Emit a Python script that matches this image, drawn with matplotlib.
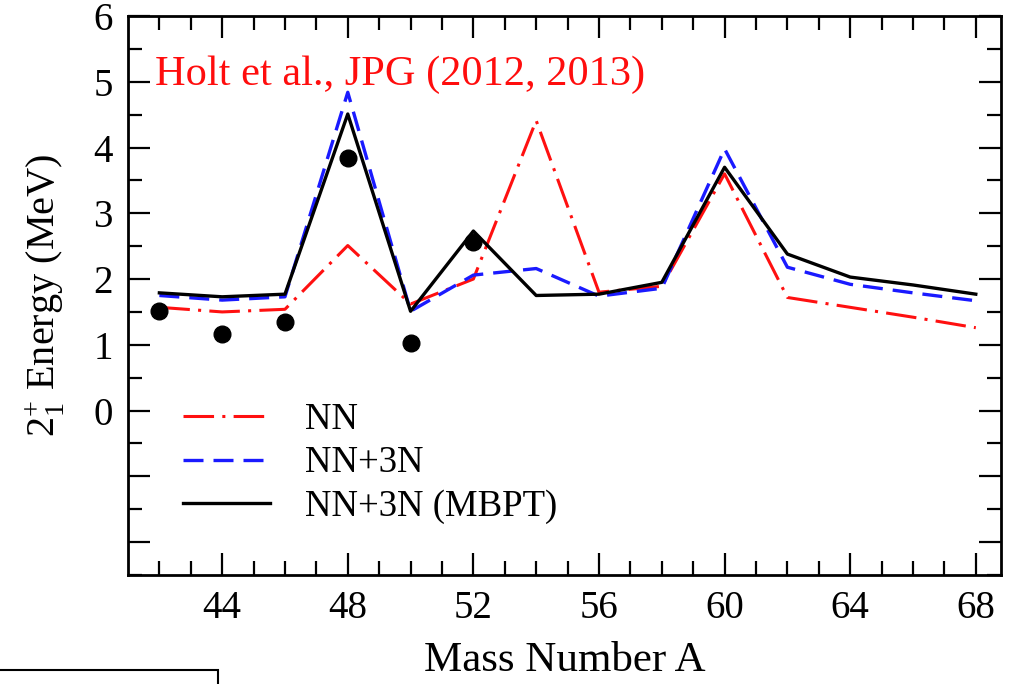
#2+_1 energies of calcium-like isotopes: NN, NN+3N and MBPT vs experiment

import matplotlib
matplotlib.use('Agg')
import matplotlib.pyplot as plt
from matplotlib.patches import Rectangle

plt.rcParams['font.family'] = 'Liberation Serif'
plt.rcParams['mathtext.fontset'] = 'custom'
plt.rcParams['mathtext.rm'] = 'Liberation Serif'

#data
mass = [42, 44, 46, 48, 50, 52, 54, 56, 58, 60, 62, 64, 66, 68]
nn = [1.57, 1.50, 1.54, 2.51, 1.62, 2.00, 4.41, 1.80, 1.89, 3.60, 1.72, 1.57, 1.42, 1.26]
nn3n = [1.75, 1.68, 1.73, 4.84, 1.51, 2.06, 2.16, 1.74, 1.86, 3.98, 2.18, 1.92, 1.79, 1.67]
mbpt = [1.79, 1.73, 1.77, 4.51, 1.51, 2.73, 1.75, 1.77, 1.95, 3.70, 2.38, 2.03, 1.91, 1.77]
exp_mass = [42, 44, 46, 48, 50, 52]
exp_e = [1.51, 1.16, 1.35, 3.84, 1.03, 2.57]

fig = plt.figure(figsize=(10.1, 6.84), dpi=100)
ax = fig.add_axes([0.1267, 0.1594, 0.8643, 0.8172])

ax.plot(mass, nn, color='#ff1010', lw=2.2, ls=(0, (10, 2.7, 1, 2.7)), label='NN')
ax.plot(mass, nn3n, color='#1a1aff', lw=2.4, ls=(0, (6, 3)), label='NN+3N')
ax.plot(mass, mbpt, color='black', lw=2.4, label='NN+3N (MBPT)')
ax.plot(exp_mass, exp_e, 'o', color='black', ms=12, zorder=5)

ax.set_xlim(41, 68.8)
ax.set_ylim(-2.5, 6)
ax.set_xticks([44, 48, 52, 56, 60, 64, 68])
ax.set_xticks(range(42, 69), minor=True)
ax.set_yticks([-2, -1, 0, 1, 2, 3, 4, 5, 6])
ax.set_yticklabels(['', '', '0', '1', '2', '3', '4', '5', '6'])
ax.set_yticks([-2.5 + 0.5*i for i in range(18)], minor=True)
ax.tick_params(which='both', direction='in', top=True, right=True, width=1.6)
ax.tick_params(which='major', length=16, labelsize=28, pad=11)
ax.tick_params(which='minor', length=10)
for s in ax.spines.values():
    s.set_linewidth(2.0)

ax.set_xlabel('Mass Number A', fontsize=31, labelpad=10)
ax.set_ylabel(r'$\mathregular{2^{+}_{1}}$ Energy (MeV)', fontsize=29, labelpad=19)

ax.text(41.85, 5.1, 'Holt et al., JPG (2012, 2013)', color='#ff0d0d', fontsize=30.5,
        va='center', ha='left')

ax.legend(loc='upper left', bbox_to_anchor=(0.063, 0.309), frameon=False, fontsize=26.5,
          handlelength=2.36, handletextpad=0.95, labelspacing=0.25, borderpad=0, borderaxespad=0)

#leftover box edge at the bottom left of the screenshot
fig.patches.append(Rectangle((-0.01, -0.05), 0.226, 0.0705, transform=fig.transFigure,
                             fill=False, edgecolor='black', lw=1.5))

fig.savefig('out.png', dpi=100)
